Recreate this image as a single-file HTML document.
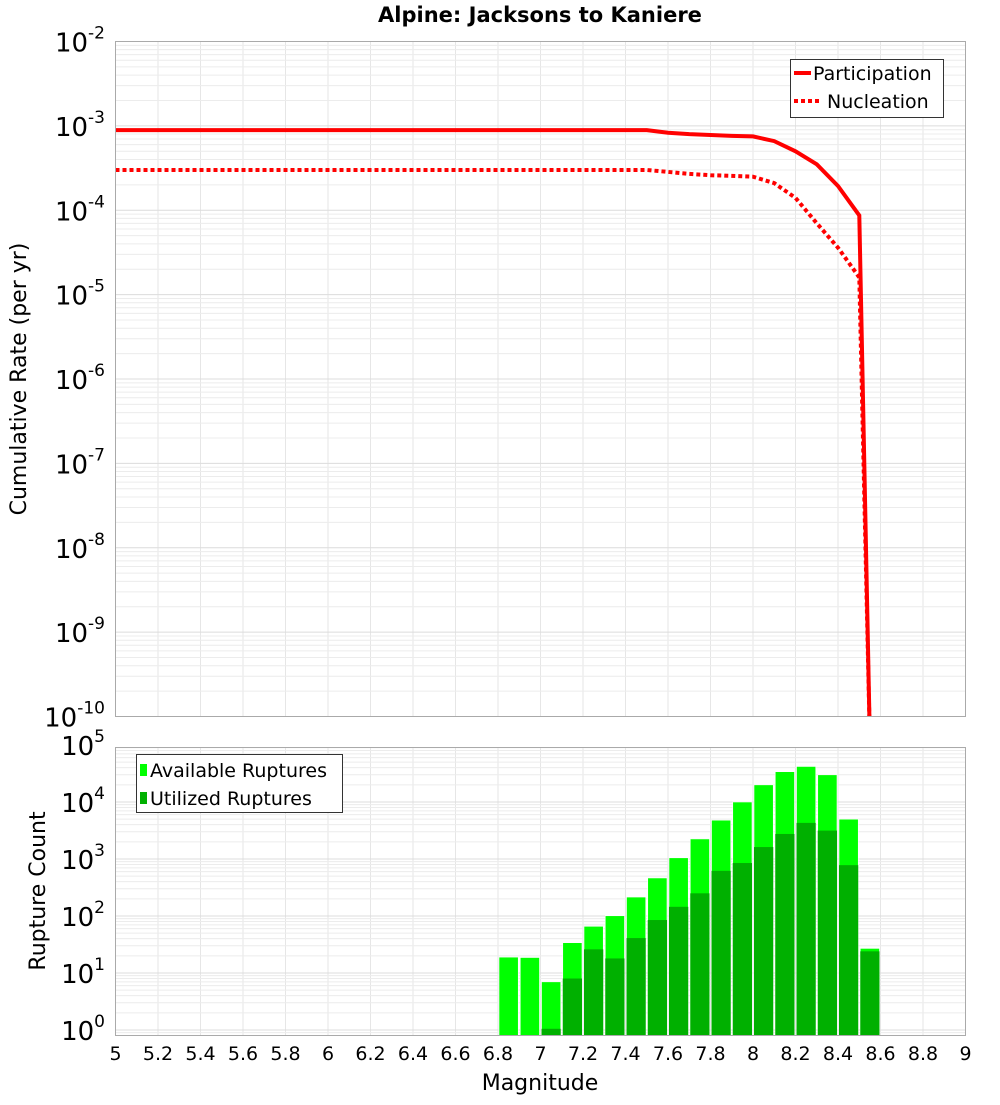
<!DOCTYPE html>
<html><head><meta charset="utf-8"><style>
body{margin:0;background:#fff;}
svg text{font-family:"DejaVu Sans","Liberation Sans",sans-serif;}
</style></head><body>
<svg id="chart" width="1000" height="1100" xmlns="http://www.w3.org/2000/svg">
<defs><clipPath id="ct"><rect x="115.5" y="41.5" width="850" height="675"/></clipPath></defs>
<text x="540" y="22" text-anchor="middle" font-size="21" font-weight="bold">Alpine: Jacksons to Kaniere</text>
<g id="gtop"></g><g id="gbot"></g>
</svg>
<script>
const magX = [5,5.1,5.2,5.3,5.4,5.5,5.6,5.7,5.8,5.9,6,6.1,6.2,6.3,6.4,6.5,6.6,6.7,6.8,6.9,7,7.1,7.2,7.3,7.4,7.5,7.6,7.7,7.8,7.9,8,8.1,8.2,8.3,8.4,8.5,8.55];
const participation = [8.9e-4,8.9e-4,8.9e-4,8.9e-4,8.9e-4,8.9e-4,8.9e-4,8.9e-4,8.9e-4,8.9e-4,8.9e-4,8.9e-4,8.9e-4,8.9e-4,8.9e-4,8.9e-4,8.9e-4,8.9e-4,8.9e-4,8.9e-4,8.9e-4,8.9e-4,8.9e-4,8.9e-4,8.9e-4,8.9e-4,8.3e-4,8.0e-4,7.8e-4,7.6e-4,7.5e-4,6.6e-4,5.0e-4,3.5e-4,1.94e-4,8.7e-5,5e-11];
const nucleation = [3.0e-4,3.0e-4,3.0e-4,3.0e-4,3.0e-4,3.0e-4,3.0e-4,3.0e-4,3.0e-4,3.0e-4,3.0e-4,3.0e-4,3.0e-4,3.0e-4,3.0e-4,3.0e-4,3.0e-4,3.0e-4,3.0e-4,3.0e-4,3.0e-4,3.0e-4,3.0e-4,3.0e-4,3.0e-4,3.0e-4,2.85e-4,2.7e-4,2.6e-4,2.55e-4,2.5e-4,2.1e-4,1.4e-4,7e-5,3.6e-5,1.6e-5,5e-11];
const binCenters = [6.85,6.95,7.05,7.15,7.25,7.35,7.45,7.55,7.65,7.75,7.85,7.95,8.05,8.15,8.25,8.35,8.45,8.55];
const available = [19,18.7,7,34,66,101,215,465,1050,2250,4800,10000,20000,34000,42000,30000,5000,27];
const utilized = [0,0,1.05,8,26,18,41,85,145,250,620,850,1620,2750,4300,3150,780,24];
const xTicks = ["5","5.2","5.4","5.6","5.8","6","6.2","6.4","6.6","6.8","7","7.2","7.4","7.6","7.8","8","8.2","8.4","8.6","8.8","9"];
const topExps = [-2,-3,-4,-5,-6,-7,-8,-9,-10];
const botExps = [5,4,3,2,1,0];

const NS="http://www.w3.org/2000/svg";
const L=115.5,R=965.5;
const X=v=>L+(v-5)*(R-L)/4;
const TT=41.5,TB=716.5;
const Yt=v=>TT+(-2-Math.log10(v))*(TB-TT)/8;
const BT=747.5,BB=1035.5;
const Yb=v=>1030-Math.log10(v)*57;
function el(tag,attrs,parent,txt){const e=document.createElementNS(NS,tag);for(const k in attrs)e.setAttribute(k,attrs[k]);if(txt!==undefined)e.textContent=txt;parent.appendChild(e);return e;}
const gTop=document.getElementById('gtop'),gBot=document.getElementById('gbot');

function grid(g,y0,y1,yfun,expLo,expHi){
  for(let i=0;i<=20;i++){const x=X(5+i*0.2);const l=el('line',{x1:x,x2:x,y1:y0,y2:y1,stroke:'#e6e6e6','stroke-width':1},g);
    
    }
  for(let e=expLo;e<=expHi;e++)for(let m=1;m<10;m++){const v=m*Math.pow(10,e);const y=yfun(v);if(y<y0||y>y1)continue;const l=el('line',{x1:L,x2:R,y1:y,y2:y,stroke:m==1?'#dcdcdc':'#ececec','stroke-width':1},g);
    
    }
}
grid(gTop,TT,TB,Yt,-11,-2);
grid(gBot,BT,BB,Yb,-1,5);

const tg=el('g',{'clip-path':'url(#ct)'},gTop);
function line2(vals,attrs,name){let d='';vals.forEach((v,i)=>{d+=(i?'L':'M')+X(magX[i]).toFixed(1)+','+Yt(v).toFixed(1);});
  const p=el('path',Object.assign({d:d,fill:'none',stroke:'#ff0000','stroke-width':4},attrs),tg);
  
  }
line2(nucleation,{'stroke-dasharray':'4,3'},'nucleation-line');
line2(participation,{},'participation-line');
const tf=el('rect',{x:L,y:TT,width:R-L,height:TB-TT,fill:'none',stroke:'#aaa'},gTop);



const bw=0.1*(R-L)/4;
binCenters.forEach((c,i)=>{
  const x=X(c)-bw/2+1;
  if(available[i]>0){const y=Yb(available[i]);const r=el('rect',{x:x,y:y,width:bw-2,height:BB-y,fill:'#00ff00',stroke:'#fff','stroke-width':0.6},gBot);
    
    }
  if(utilized[i]>0){const y=Yb(utilized[i]);const r=el('rect',{x:x,y:y,width:bw-2,height:BB-y,fill:'#00b000'},gBot);
    
    }
});
const bf=el('rect',{x:L,y:BT,width:R-L,height:BB-BT,fill:'none',stroke:'#aaa'},gBot);



function expLabel(g,y,e,name){const t=el('text',{x:105,y:y+10,'text-anchor':'end','font-size':26},g);
  
  
  el('tspan',{},t,'10');el('tspan',{dy:-13,'font-size':17},t,String(e));}
topExps.forEach(e=>expLabel(gTop,Yt(Math.pow(10,e)),e,'y-tick-label'));
botExps.forEach(e=>expLabel(gBot,Yb(Math.pow(10,e)),e,'bottom-y-tick-label'));
xTicks.forEach(s=>{const t=el('text',{x:X(parseFloat(s)),y:1060,'text-anchor':'middle','font-size':19},gBot,s);
  
  });
let t=el('text',{x:540,y:1090,'text-anchor':'middle','font-size':22},gBot,'Magnitude');


t=el('text',{x:0,y:0,'text-anchor':'middle','font-size':22,transform:'translate(26,379) rotate(-90)'},gTop,'Cumulative Rate (per yr)');


t=el('text',{x:0,y:0,'text-anchor':'middle','font-size':22,transform:'translate(45,891) rotate(-90)'},gBot,'Rupture Count');



let lg=el('g',{},gTop);


el('rect',{x:790.5,y:59.5,width:153,height:58,fill:'#fff',stroke:'#333'},lg);
el('line',{x1:794,x2:811,y1:73,y2:73,stroke:'#f00','stroke-width':4},lg);
el('text',{x:813,y:80,'font-size':19},lg,'Participation');
el('line',{x1:794,x2:822,y1:101,y2:101,stroke:'#f00','stroke-width':4,'stroke-dasharray':'4,3'},lg);
el('text',{x:827,y:108,'font-size':19},lg,'Nucleation');
lg=el('g',{},gBot);


el('rect',{x:136.5,y:754.5,width:206,height:58,fill:'#fff',stroke:'#333'},lg);
el('rect',{x:140,y:764,width:7,height:12,fill:'#00ff00'},lg);
el('text',{x:150,y:777,'font-size':19},lg,'Available Ruptures');
el('rect',{x:140,y:792,width:7,height:12,fill:'#00b000'},lg);
el('text',{x:150,y:805,'font-size':19},lg,'Utilized Ruptures');
</script>
</body></html>
